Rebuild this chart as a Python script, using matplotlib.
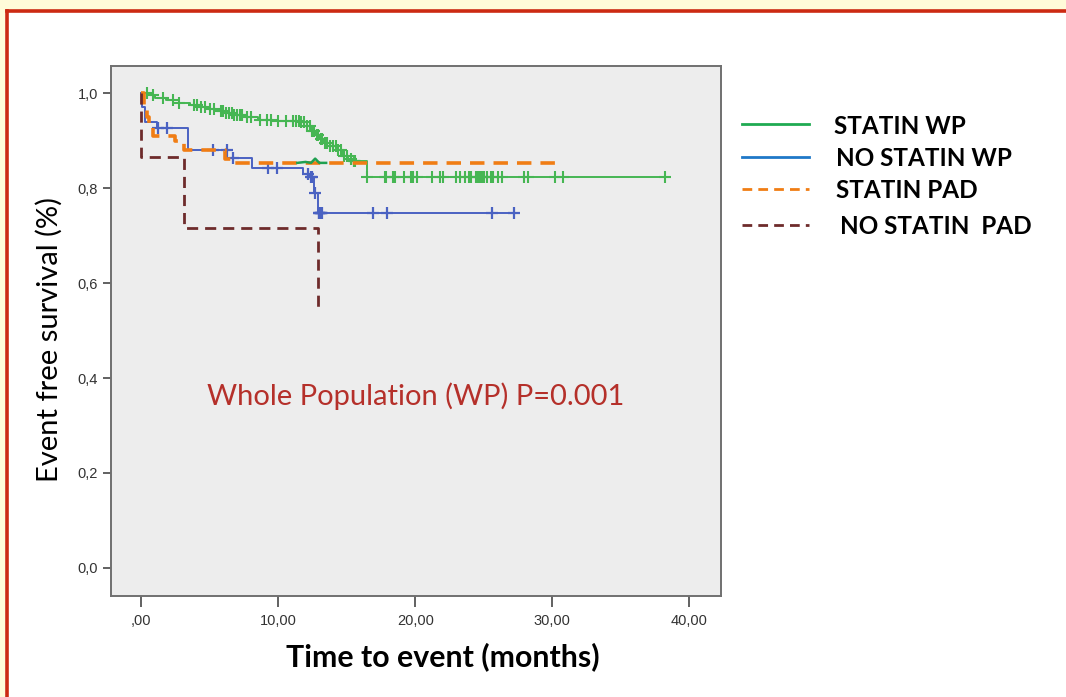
import numpy as np
import matplotlib

matplotlib.use('Agg')

from matplotlib import pyplot as plt
from matplotlib.lines import Line2D
from matplotlib.patches import Rectangle

##### Data #####
# step curves: (time in months, survival)
statin_wp_t = [0, 0.5, 1.0, 1.8, 2.8, 3.6, 4.3, 5.0, 5.6, 6.2, 6.8, 7.5, 8.5, 10.0, 11.6,
               12.1, 12.4, 12.7, 13.0, 13.3, 13.8, 14.3, 14.7, 15.1, 15.5, 16.5]
statin_wp_s = [1.0, 0.995, 0.99, 0.985, 0.979, 0.975, 0.971, 0.966, 0.962, 0.958, 0.953, 0.949,
               0.944, 0.941, 0.939, 0.930, 0.920, 0.912, 0.903, 0.895, 0.888, 0.880, 0.868,
               0.862, 0.856, 0.823]
statin_wp_end = 38.2
statin_wp_cens = [0.4, 0.9, 1.6, 2.3, 2.8, 3.9, 4.1, 4.4, 4.7, 5.0, 5.3, 5.8, 6.0, 6.2, 6.4, 6.6,
                  6.8, 7.0, 7.2, 7.4, 7.7, 8.0, 8.7, 9.2, 9.5, 10.0, 10.6, 11.1, 11.3, 11.5, 11.7,
                  11.9, 12.1, 12.3, 12.5, 12.6, 12.8, 12.9, 13.1, 13.2, 13.4, 13.6, 13.8, 14.0,
                  14.2, 14.4, 14.6, 14.8, 15.0, 15.3, 15.5, 15.5, 15.6,
                  16.5, 17.8, 17.9, 18.4, 18.5, 19.2, 19.7, 19.8, 20.1, 21.2, 21.8, 22.0, 23.0,
                  23.3, 23.6, 23.9, 24.1, 24.4, 24.6, 24.7, 24.9, 25.0, 25.2, 25.5, 25.7, 26.0,
                  26.3, 27.9, 28.2, 30.2, 30.8, 38.2]

nostatin_wp_t = [0, 0.1, 0.3, 1.2, 3.4, 6.3, 8.1, 11.8, 12.3, 12.6, 12.9]
nostatin_wp_s = [1.0, 0.97, 0.94, 0.926, 0.88, 0.863, 0.842, 0.83, 0.823, 0.789, 0.747]
nostatin_wp_end = 27.3
nostatin_wp_cens = [1.24, 1.9, 5.26, 6.28, 6.7, 9.27, 9.93, 12.2, 12.4, 12.5, 12.7, 12.95, 13.0,
                    13.05, 13.1, 13.15, 13.2, 16.9, 17.96, 25.6, 27.2]

statin_pad_t = [0, 0.2, 0.4, 0.6, 0.9, 2.5, 3.1, 6.1, 6.6]
statin_pad_s = [1.0, 0.97, 0.95, 0.93, 0.91, 0.90, 0.88, 0.862, 0.853]
statin_pad_end = 30.6

nostatin_pad_t = [0, 0.0, 3.1, 12.9]
nostatin_pad_s = [1.0, 0.865, 0.716, 0.547]

# small green stroke near the PAD line
wiggle_t = [11.4, 12.0, 12.4, 12.7, 13.0, 13.5]
wiggle_s = [0.853, 0.855, 0.853, 0.862, 0.853, 0.853]

labels = ['STATIN WP', 'NO STATIN WP', 'STATIN PAD', 'NO STATIN  PAD']
x_ticks = [0, 10, 20, 30, 40]
x_ticklabels = [',00', '10,00', '20,00', '30,00', '40,00']
y_ticks = [0.0, 0.2, 0.4, 0.6, 0.8, 1.0]
y_ticklabels = ['0,0', '0,2', '0,4', '0,6', '0,8', '1,0']

GREEN = '#46b653'
BLUE = '#4a62c2'
ORANGE = '#f07d14'
BROWN = '#6e2b2b'


def step_xy(t, s, end):
    xs = list(t) + [end]
    ys = list(s) + [s[-1]]
    return xs, ys


def surv_at(t, s, x):
    i = np.searchsorted(t, x, side='right') - 1
    return np.array(s)[np.clip(i, 0, len(s) - 1)]


fig = plt.figure(figsize=(10.66, 6.97), dpi=100)
fig.patch.set_facecolor('white')

# cream strips and red frame
fig.add_artist(Rectangle((0, 0), 5 / 1066, 1, transform=fig.transFigure,
                         facecolor='#fffbd9', edgecolor='none'))
fig.add_artist(Rectangle((0, 1 - 10 / 697), 1, 10 / 697, transform=fig.transFigure,
                         facecolor='#fffbd9', edgecolor='none'))
fig.add_artist(Line2D([7 / 1066, 7 / 1066], [0, 1 - 11 / 697], transform=fig.transFigure,
                      color='#cc2a12', lw=2.6))
fig.add_artist(Line2D([7 / 1066, 1], [1 - 11 / 697, 1 - 11 / 697], transform=fig.transFigure,
                      color='#cc2a12', lw=2.6))

ax = fig.add_axes([111 / 1066, 1 - 596 / 697, 610 / 1066, 530 / 697])
ax.set_facecolor('#ededed')

xs, ys = step_xy(statin_wp_t, statin_wp_s, statin_wp_end)
ax.step(xs, ys, where='post', color=GREEN, lw=1.4)
ax.plot(statin_wp_cens, surv_at(statin_wp_t, statin_wp_s, statin_wp_cens), '+',
        color=GREEN, ms=9, mew=1.5)

xs, ys = step_xy(nostatin_wp_t, nostatin_wp_s, nostatin_wp_end)
ax.step(xs, ys, where='post', color=BLUE, lw=1.4)
ax.plot(nostatin_wp_cens, surv_at(nostatin_wp_t, nostatin_wp_s, nostatin_wp_cens), '+',
        color=BLUE, ms=9, mew=1.6)

xs, ys = step_xy(statin_pad_t, statin_pad_s, statin_pad_end)
ax.step(xs, ys, where='post', color=ORANGE, lw=2.6, dashes=(4, 2.5))

ax.plot(wiggle_t, wiggle_s, color='#1fa050', lw=1.8)

ax.step(nostatin_pad_t, nostatin_pad_s, where='post', color=BROWN, lw=2.0, dashes=(4, 2.5))

ax.text(20.0, 0.362, 'Whole Population (WP) P=0.001', color='#b5302a', fontsize=21,
        family='Lato', ha='center', va='center')

ax.set_xlim(-2.19, 42.3)
ax.set_ylim(-0.059, 1.057)
ax.set_xticks(x_ticks)
ax.set_xticklabels(x_ticklabels)
ax.set_yticks(y_ticks)
ax.set_yticklabels(y_ticklabels)
for sp in ax.spines.values():
    sp.set_color('#707070')
    sp.set_linewidth(1.4)
ax.tick_params(axis='both', colors='#555555', labelcolor='#333333', labelsize=10.5,
               length=6, width=1.3)
ax.tick_params(axis='x', pad=5, length=8)
for lab in ax.get_xticklabels() + ax.get_yticklabels():
    lab.set_family('Liberation Sans')

ax.set_xlabel('Time to event (months)', fontsize=21.8, fontweight='bold', family='Lato')
ax.xaxis.set_label_coords((443 - 111) / 610, -(642 - 596) / 530)
ax.set_ylabel('Event free survival (%)', fontsize=21, family='Lato')
ax.yaxis.set_label_coords(-(111 - 63) / 610, (596 - 339) / 530)

# custom legend outside the axes
leg_colors = [('#1faa52', '-'), ('#1f78c8', '-'), (ORANGE, '--'), (BROWN, '--')]
leg_y = [124, 157, 189, 225]
text_x = [834, 836, 836, 840]
for (c, ls), yy, tx, lab in zip(leg_colors, leg_y, text_x, labels):
    ln = Line2D([742 / 1066, 809 / 1066], [1 - yy / 697] * 2, transform=fig.transFigure,
                color=c, lw=2.0)
    if ls == '--':
        ln.set_dashes((3.5, 2.2))
    fig.add_artist(ln)
    fig.text(tx / 1066, 1 - (yy + 2) / 697, lab, fontsize=17.5, fontweight='bold',
             family='Lato', va='center', ha='left')

plt.savefig('out.png', dpi=100)
